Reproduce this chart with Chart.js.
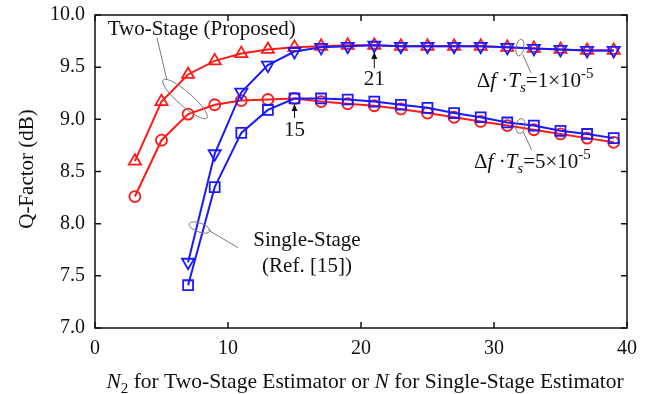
<!DOCTYPE html>
<html>
<head>
<meta charset="utf-8">
<script src="https://cdn.jsdelivr.net/npm/chart.js@4.4.1/dist/chart.umd.min.js"></script>
<style>
  html, body { margin: 0; padding: 0; background: #fff; }
  #wrap { width: 647px; height: 394px; }
</style>
</head>
<body>
<div id="wrap"><canvas id="qChart" width="647" height="394"></canvas></div>
<script>
// N2 (two-stage) and N (single-stage) values
const nTwoStage = [3, 5, 7, 9, 11, 13, 15, 17, 19, 21, 23, 25, 27, 29, 31, 33, 35, 37, 39];
const nSingleStage = [7, 9, 11, 13, 15, 17, 19, 21, 23, 25, 27, 29, 31, 33, 35, 37, 39];

// Q-factor (dB)
const twoStage1e5 = [8.60, 9.17, 9.43, 9.56, 9.63, 9.67, 9.69, 9.70, 9.71, 9.71, 9.70, 9.70, 9.70, 9.70, 9.69, 9.68, 9.67, 9.66, 9.66];
const twoStage5e5 = [8.26, 8.80, 9.05, 9.14, 9.18, 9.19, 9.20, 9.17, 9.15, 9.13, 9.10, 9.06, 9.02, 8.98, 8.94, 8.90, 8.86, 8.82, 8.78];
const single1e5 = [7.63, 8.67, 9.26, 9.52, 9.65, 9.69, 9.70, 9.71, 9.70, 9.70, 9.70, 9.70, 9.69, 9.68, 9.67, 9.66, 9.66];
const single5e5 = [7.41, 8.35, 8.87, 9.09, 9.20, 9.20, 9.19, 9.17, 9.14, 9.11, 9.06, 9.02, 8.97, 8.94, 8.89, 8.86, 8.82];

const xTickValues = [0, 10, 20, 30, 40];
const yTickValues = [7.0, 7.5, 8.0, 8.5, 9.0, 9.5, 10.0];

const SERIF = '"Liberation Serif", "DejaVu Serif", serif';
const RED = '#ff1a1a';
const BLUE = '#1a1aff';

function pts(xs, ys) {
  return xs.map((x, i) => ({ x: x, y: ys[i] }));
}

function series(label, xs, ys, color, style, rotation, radius) {
  return {
    label: label,
    data: pts(xs, ys),
    showLine: true,
    borderColor: color,
    borderWidth: 2,
    pointStyle: style,
    rotation: rotation,
    pointRadius: radius,
    pointHoverRadius: radius,
    pointBorderWidth: 1.8,
    pointBorderColor: color,
    pointBackgroundColor: 'rgba(0,0,0,0)',
    backgroundColor: 'rgba(0,0,0,0)',
    tension: 0
  };
}

// draws a run of text pieces, some italic / sub / superscript
function richText(ctx, x, y, parts, size, align) {
  const fontFor = p => (p.italic ? 'italic ' : '') + ((p.sub || p.sup) ? Math.round(size * 0.7) : size) + 'px ' + SERIF;
  let total = 0;
  parts.forEach(p => { ctx.font = fontFor(p); total += ctx.measureText(p.t).width; });
  let cx = align === 'center' ? x - total / 2 : x;
  ctx.textAlign = 'left';
  ctx.textBaseline = 'alphabetic';
  parts.forEach(p => {
    ctx.font = fontFor(p);
    let dy = p.sub ? size * 0.25 : (p.sup ? -size * 0.42 : 0);
    ctx.fillText(p.t, cx, y + dy);
    cx += ctx.measureText(p.t).width;
  });
}

const framePlugin = {
  id: 'frameAndNotes',
  afterDraw(chart) {
    const { ctx, chartArea: a, scales: { x, y } } = chart;
    const X = v => x.getPixelForValue(v);
    const Y = v => y.getPixelForValue(v);
    ctx.save();

    // box with inward ticks
    ctx.strokeStyle = '#111';
    ctx.lineWidth = 1.5;
    ctx.strokeRect(a.left, a.top, a.right - a.left, a.bottom - a.top);
    const tl = 6;
    ctx.beginPath();
    xTickValues.forEach(v => {
      const px = X(v);
      ctx.moveTo(px, a.bottom); ctx.lineTo(px, a.bottom - tl);
      ctx.moveTo(px, a.top); ctx.lineTo(px, a.top + tl);
    });
    yTickValues.forEach(v => {
      const py = Y(v);
      ctx.moveTo(a.left, py); ctx.lineTo(a.left + tl, py);
      ctx.moveTo(a.right, py); ctx.lineTo(a.right - tl, py);
    });
    ctx.stroke();

    // axis titles
    ctx.fillStyle = '#111';
    richText(ctx, 365, 388, [
      { t: 'N', italic: true }, { t: '2', sub: true },
      { t: ' for Two-Stage Estimator or ' },
      { t: 'N', italic: true },
      { t: ' for Single-Stage Estimator' }
    ], 21.5, 'center');
    ctx.save();
    ctx.translate(33, 169);
    ctx.rotate(-Math.PI / 2);
    richText(ctx, 0, 0, [{ t: 'Q-Factor (dB)' }], 21, 'center');
    ctx.restore();

    // leader lines and ellipses
    ctx.strokeStyle = '#7a7a7a';
    ctx.lineWidth = 1;
    const line = (x1, y1, x2, y2) => {
      ctx.beginPath(); ctx.moveTo(X(x1), Y(y1)); ctx.lineTo(X(x2), Y(y2)); ctx.stroke();
    };
    const ell = (cx, cy, rx, ry, rotDeg) => {
      ctx.beginPath();
      ctx.ellipse(X(cx), Y(cy), rx, ry, rotDeg * Math.PI / 180, 0, Math.PI * 2);
      ctx.stroke();
    };
    line(4.66, 9.78, 5.41, 9.377);
    ell(6.77, 9.195, 29, 7, 41);
    line(8.5, 7.94, 10.75, 7.77);
    ell(7.86, 7.963, 11, 4.5, 20);
    line(32.18, 9.617, 32.78, 9.444);
    ell(31.95, 9.688, 3.8, 8.5, 10);
    line(32.2, 8.88, 32.83, 8.706);
    ell(31.99, 8.936, 4.5, 7.5, 10);

    // peak markers
    ctx.strokeStyle = '#111';
    ctx.fillStyle = '#111';
    const arrow = (xv, y1, y2) => {
      const px = X(xv), p1 = Y(y1), p2 = Y(y2);
      ctx.beginPath(); ctx.moveTo(px, p1); ctx.lineTo(px, p2 + 5); ctx.stroke();
      ctx.beginPath(); ctx.moveTo(px, p2); ctx.lineTo(px - 3, p2 + 7); ctx.lineTo(px + 3, p2 + 7); ctx.closePath(); ctx.fill();
    };
    arrow(21, 9.49, 9.645);
    arrow(15, 9.013, 9.147);
    richText(ctx, X(21), Y(9.33), [{ t: '21' }], 21, 'center');
    richText(ctx, X(15), Y(8.84), [{ t: '15' }], 21, 'center');

    // curve labels
    richText(ctx, X(8.02), Y(9.81), [{ t: 'Two-Stage (Proposed)' }], 21, 'center');
    richText(ctx, X(15.94), Y(7.79), [{ t: 'Single-Stage' }], 21, 'center');
    richText(ctx, X(15.94), Y(7.54), [{ t: '(Ref. [15])' }], 21, 'center');
    const dfLabel = exp => [
      { t: '\u0394' }, { t: 'f', italic: true }, { t: ' \u00b7' },
      { t: 'T', italic: true }, { t: 's', italic: true, sub: true },
      { t: '=' + exp + '\u00d710' }, { t: '-5', sup: true }
    ];
    richText(ctx, X(28.7), Y(9.31), dfLabel('1'), 21, 'left');
    richText(ctx, X(28.5), Y(8.533), dfLabel('5'), 21, 'left');

    ctx.restore();
  }
};

new Chart(document.getElementById('qChart').getContext('2d'), {
  type: 'scatter',
  data: {
    datasets: [
      series('Single-Stage 1e-5', nSingleStage, single1e5, BLUE, 'triangle', 180, 7),
      series('Single-Stage 5e-5', nSingleStage, single5e5, BLUE, 'rect', 0, 7),
      series('Two-Stage 1e-5', nTwoStage, twoStage1e5, RED, 'triangle', 0, 7),
      series('Two-Stage 5e-5', nTwoStage, twoStage5e5, RED, 'circle', 0, 5.5)
    ]
  },
  options: {
    responsive: false,
    animation: false,
    layout: { padding: { top: 15, right: 20, left: 0, bottom: 0 } },
    plugins: { legend: { display: false }, tooltip: { enabled: false } },
    scales: {
      x: {
        type: 'linear', min: 0, max: 40,
        afterBuildTicks: s => { s.ticks = xTickValues.map(v => ({ value: v })); },
        afterFit: s => { s.height = 66; s.paddingLeft = 0; s.paddingRight = 0; },
        grid: { display: false, drawTicks: false },
        border: { display: false },
        ticks: { font: { family: SERIF, size: 20 }, color: '#111', padding: 9, maxRotation: 0 }
      },
      y: {
        type: 'linear', min: 7, max: 10,
        afterBuildTicks: s => { s.ticks = yTickValues.map(v => ({ value: v })); },
        afterFit: s => { s.width = 95; s.paddingTop = 0; s.paddingBottom = 0; },
        grid: { display: false, drawTicks: false },
        border: { display: false },
        ticks: { font: { family: SERIF, size: 20 }, color: '#111', padding: 10, callback: v => v.toFixed(1) }
      }
    }
  },
  plugins: [framePlugin]
});
</script>
</body>
</html>
